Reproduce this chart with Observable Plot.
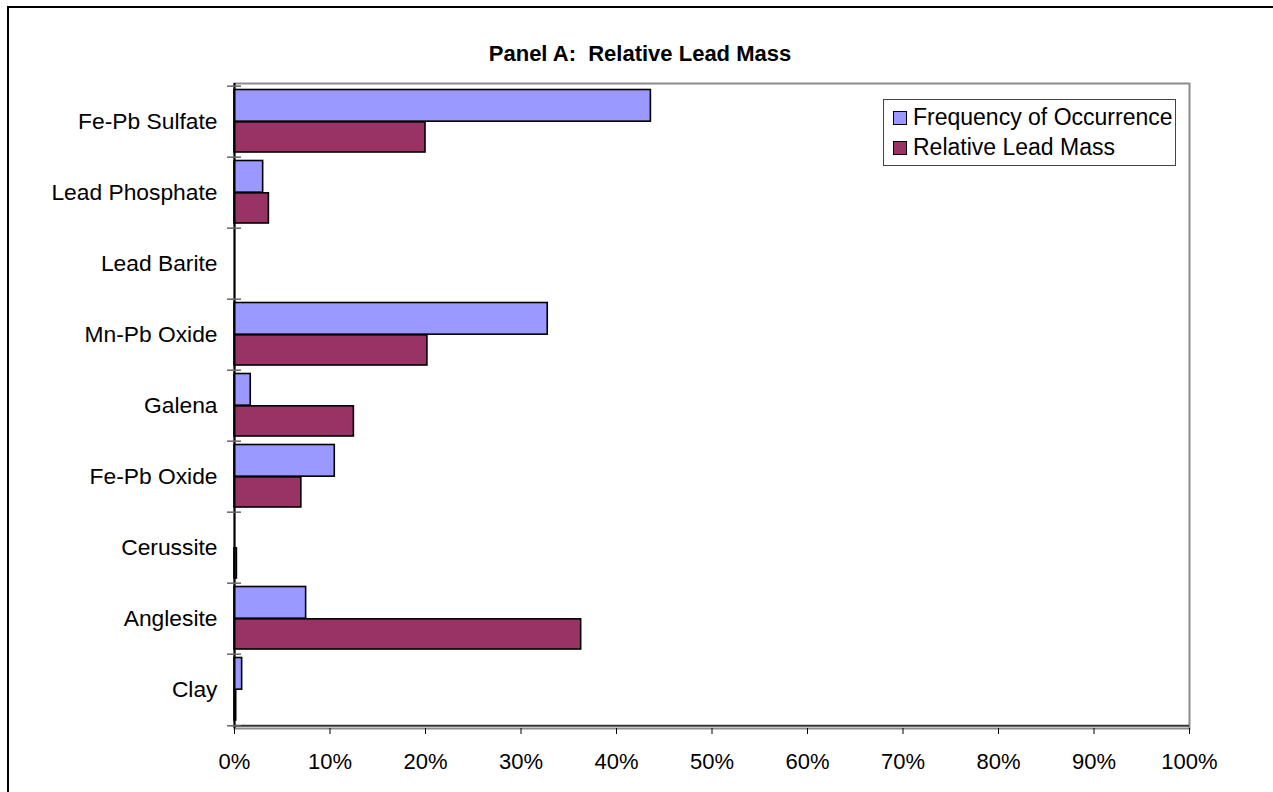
<!DOCTYPE html>
<html>
<head>
<meta charset="utf-8">
<script src="https://cdn.jsdelivr.net/npm/d3@7"></script>
<script src="https://cdn.jsdelivr.net/npm/@observablehq/plot@0.6"></script>
<style>
  html, body { margin: 0; padding: 0; background: #fff; overflow: hidden; }
  body { width: 1273px; height: 792px; position: relative; font-family: Arial, "Liberation Sans", sans-serif; }
  #frame { position: absolute; left: 7px; top: 6px; width: 1400px; height: 1000px; border: 2px solid #000; box-sizing: border-box; }
  #title { position: absolute; left: 340px; width: 600px; top: 41px; text-align: center; font-weight: bold; font-size: 22px; white-space: pre; color: #000; }
  #chart { position: absolute; left: 0; top: 0; }
  #legend { position: absolute; left: 883px; top: 99px; width: 293px; height: 67px; border: 1.5px solid #444; box-sizing: border-box; background: #fff; font-size: 23px; }
  .item { position: absolute; left: 9px; display: flex; align-items: center; white-space: nowrap; }
  .sw { width: 12px; height: 12px; border: 1.5px solid #000; margin-right: 6px; }
</style>
</head>
<body>
<div id="frame"></div>
<div id="title">Panel A:  Relative Lead Mass</div>
<div id="chart"></div>
<div id="legend"></div>
<script>
const categories = ["Fe-Pb Sulfate", "Lead Phosphate", "Lead Barite", "Mn-Pb Oxide", "Galena", "Fe-Pb Oxide", "Cerussite", "Anglesite", "Clay"];
const seriesNames = ["Frequency of Occurrence", "Relative Lead Mass"];
const seriesColors = ["#9999FF", "#993366"];
const frequency = [43.6, 3.0, 0, 32.8, 1.7, 10.5, 0, 7.5, 0.8];
const leadMass = [20.0, 3.6, 0, 20.2, 12.5, 7.0, 0.25, 36.3, 0.18];
const xTicks = [0, 10, 20, 30, 40, 50, 60, 70, 80, 90, 100];

const W = 1273, H = 792;
const mL = 234, mR = 84, mT = 83, mB = 64;
const step = (H - mT - mB) / categories.length;

const rows = categories.map((c, i) => ({category: c, freq: frequency[i], mass: leadMass[i]}));

const plot = Plot.plot({
  width: W,
  height: H,
  marginLeft: mL,
  marginRight: mR,
  marginTop: mT,
  marginBottom: mB,
  style: {fontFamily: 'Arial, "Liberation Sans", sans-serif', fontSize: "22px", background: "transparent", color: "#000", overflow: "visible"},
  x: {domain: [0, 100]},
  y: {domain: categories, padding: 0},
  marks: [
    Plot.frame({stroke: "#8c8c8c", strokeWidth: 2}),
    Plot.barX(rows.filter(d => d.freq > 0), {y: "category", x: "freq", fill: seriesColors[0], stroke: "#000", strokeWidth: 1.6, insetTop: 3.5, insetBottom: step / 2}),
    Plot.barX(rows.filter(d => d.mass > 0), {y: "category", x: "mass", fill: seriesColors[1], stroke: "#000", strokeWidth: 1.6, insetTop: step / 2, insetBottom: 5}),
    Plot.ruleX([0], {stroke: "#000", strokeWidth: 2}),
    Plot.ruleY([categories[categories.length - 1]], {dy: step / 2, stroke: "#333", strokeWidth: 2}),
    Plot.axisY({tickSize: 0, tickPadding: 17, label: null, fontSize: 22.8}),
    Plot.axisY({tickSize: 14, dx: 7, dy: -step / 2, tickFormat: () => "", label: null, stroke: "#666", strokeWidth: 1.5}),
    Plot.axisY([categories[categories.length - 1]], {tickSize: 14, dx: 7, dy: step / 2, tickFormat: () => "", label: null, stroke: "#666", strokeWidth: 1.5}),
    Plot.axisX(xTicks, {tickSize: 6, tickPadding: 19, tickFormat: d => d + "%", label: null, stroke: "#000"})
  ]
});
document.getElementById("chart").appendChild(plot);

const legend = document.getElementById("legend");
seriesNames.forEach((name, i) => {
  const item = document.createElement("div");
  item.className = "item";
  item.style.top = (4 + i * 30) + "px";
  const sw = document.createElement("div");
  sw.className = "sw";
  sw.style.background = seriesColors[i];
  const t = document.createElement("span");
  t.textContent = name;
  item.appendChild(sw);
  item.appendChild(t);
  legend.appendChild(item);
});
</script>
</body>
</html>
